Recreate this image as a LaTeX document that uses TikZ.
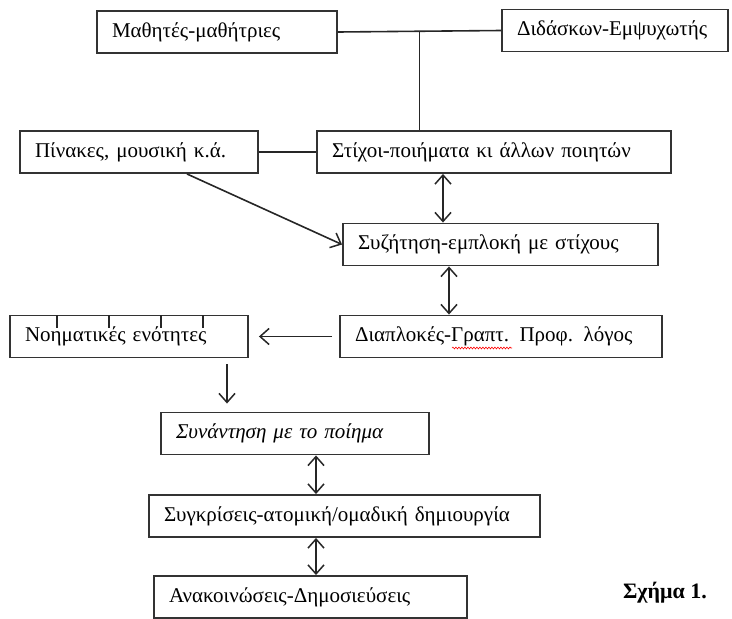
\documentclass[tikz,border=0pt]{standalone}
\usepackage{fontspec}
\setmainfont{Liberation Serif}
\usetikzlibrary{arrows.meta,positioning,calc,decorations.pathmorphing}

\begin{document}
\begin{tikzpicture}[x=1pt, y=-1pt,
  cell/.style={draw=black!80, line width=1.9pt, minimum height=42pt, inner xsep=15pt, align=left, font=\fontsize{21}{24}\selectfont},
  conn/.style={line width=1.6pt, draw=black!85},
  arr/.style={conn, -{Straight Barb[length=9pt,width=16pt,line width=1.5pt]}},
  dblarr/.style={conn, {Straight Barb[length=9pt,width=16pt,line width=1.5pt]}-{Straight Barb[length=9pt,width=16pt,line width=1.5pt]}}
]
  \useasboundingbox (0,0) rectangle (732,619);

  %% Top row
  \node[cell, text width=210pt] (pupils)  at (217,32)    {Μαθητές-μαθήτριες};
  \node[cell, text width=196pt] (teacher) at (615,30.5)  {Διδάσκων-Εμψυχωτής};

  %% Sources
  \node[cell, text width=208pt] (arts)    at (139,152)   {Πίνακες, μουσική κ.ά.};
  \node[cell, text width=324pt] (verses)  at (494,152)   {Στίχοι-ποιήματα κι άλλων ποιητών};

  %% Middle
  \node[cell, text width=285pt] (talk)    at (500.5,244.5) {Συζήτηση-εμπλοκή με στίχους};
  \node[cell, text width=292pt] (weave)   at (501,336.5)   {Διαπλοκές-Γραπτ. Προφ. λόγος};
  \node[cell, text width=208pt] (units)   at (129,336.5)   {Νοηματικές ενότητες};
  \foreach \tx in {57,109,161,203}
    \draw[conn, line width=1.2pt] (\tx,315) -- (\tx,328);
  \draw[red, line width=0.6pt, decorate, decoration={snake, amplitude=0.9pt, segment length=3pt}] (452,348) -- (512,348);

  %% Bottom column
  \node[cell, text width=238pt] (meet)     at (295,433.5) {\itshape Συνάντηση με το ποίημα};
  \node[cell, text width=361pt] (compare)  at (344.5,516) {Συγκρίσεις-ατομική/ομαδική δημιουργία};
  \node[cell, text width=283pt] (announce) at (310.5,597) {Ανακοινώσεις-Δημοσιεύσεις};

  \node[font=\fontsize{22}{24}\selectfont\bfseries] (caption) at (665,593) {Σχήμα 1.};

  %% Connectors
  \draw[conn] (pupils.east) -- (teacher.west) coordinate[pos=.5] (hub);
  \draw[conn] (hub) -- (hub |- verses.north);
  \draw[conn] (arts.east) -- (verses.west);
  \draw[arr] ($(arts.south west)!.7!(arts.south east)$) -- (talk.west);
  \draw[dblarr] ([xshift=-51pt]verses.south) -- ([xshift=-57.5pt]talk.north);
  \draw[dblarr] ([xshift=-51.5pt]talk.south) -- ([xshift=-52pt]weave.north);
  \draw[arr, shorten <=7pt, shorten >=10pt] (weave.west) -- (units.east);
  \draw[arr, shorten <=6pt, shorten >=8pt] ([xshift=98pt]units.south) -- ([xshift=-68pt]meet.north);
  \draw[dblarr] ([xshift=21pt]meet.south) -- ([xshift=-28.5pt]compare.north);
  \draw[dblarr] ([xshift=-28.5pt]compare.south) -- ([xshift=5.5pt]announce.north);
\end{tikzpicture}
\end{document}
